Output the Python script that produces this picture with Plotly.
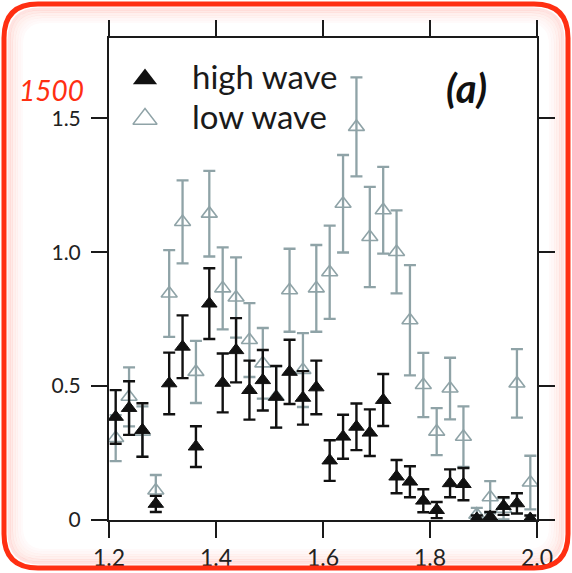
import plotly.graph_objects as go

# Bin centres of the spectrum (x axis)
bin_centers = [1.2125, 1.2375, 1.2625, 1.2875, 1.3125, 1.3375, 1.3625, 1.3875,
               1.4125, 1.4375, 1.4625, 1.4875, 1.5125, 1.5375, 1.5625, 1.5875,
               1.6125, 1.6375, 1.6625, 1.6875, 1.7125, 1.7375, 1.7625, 1.7875,
               1.8125, 1.8375, 1.8625, 1.8875, 1.9125, 1.9375, 1.9625, 1.9875]

high_wave = [0.385, 0.418, 0.336, 0.060, 0.510, 0.647, 0.274, 0.808,
             0.512, 0.634, 0.485, 0.522, 0.460, 0.553, 0.456, 0.495,
             0.222, 0.311, 0.348, 0.326, 0.448, 0.162, 0.143, 0.072,
             0.037, 0.137, 0.134, 0.005, 0.012, 0.052, 0.062, 0.005]
high_err = [0.100, 0.100, 0.100, 0.030, 0.115, 0.117, 0.076, 0.132,
            0.110, 0.120, 0.110, 0.113, 0.115, 0.120, 0.100, 0.100,
            0.076, 0.082, 0.087, 0.087, 0.097, 0.062, 0.058, 0.043,
            0.030, 0.052, 0.060, 0.012, 0.018, 0.033, 0.038, 0.012]

low_wave = [0.306, 0.460, 0.330, 0.110, 0.846, 1.113, 0.553, 1.144,
            0.865, 0.831, 0.672, 0.585, 0.460, 0.858, 0.560, 0.865,
            0.925, 1.181, 1.468, 1.057, 1.157, 1.001, 0.746, 0.504,
            0.330, 0.491, 0.311, 0.020, 0.085, 0.042, 0.510, 0.140]
low_err = [0.086, 0.110, 0.094, 0.058, 0.162, 0.155, 0.116, 0.160,
           0.153, 0.150, 0.138, 0.132, 0.115, 0.155, 0.138, 0.162,
           0.174, 0.182, 0.185, 0.187, 0.162, 0.155, 0.206, 0.120,
           0.088, 0.115, 0.113, 0.025, 0.060, 0.040, 0.128, 0.100]

x_ticks = [1.2, 1.4, 1.6, 1.8, 2.0]
x_tick_text = ["1.2", "1.4", "1.6", "1.8", "2.0"]
y_ticks = [0, 0.5, 1.0, 1.5]
y_tick_text = ["0", "0.5", "1.0", "1.5"]

series_names = ["high wave", "low wave"]

W, H = 572, 573
ML, MR, MT, MB = 109, 35, 38, 53
PW, PH = W - ML - MR, H - MT - MB

BLACK = "#111111"
GREY = "#8fa3a7"
RED = "#ff2f12"
FONT = "Lato"


def px_to_paper(px, py):
    return (px - ML) / PW, (H - MB - py) / PH


fig = go.Figure()

fig.add_trace(go.Scatter(
    x=bin_centers, y=low_wave, mode="markers", name=series_names[1],
    marker=dict(symbol="triangle-up-open", size=14, color=GREY,
                line=dict(color=GREY, width=1.6)),
    error_y=dict(type="data", array=low_err, color=GREY, thickness=2.3, width=6),
    showlegend=False,
))
fig.add_trace(go.Scatter(
    x=bin_centers, y=high_wave, mode="markers", name=series_names[0],
    marker=dict(symbol="triangle-up", size=13.5, color=BLACK,
                line=dict(color=BLACK, width=1)),
    error_y=dict(type="data", array=high_err, color=BLACK, thickness=2.4, width=6),
    showlegend=False,
))

# Key symbols on a hidden unit axis laid over the plot area
kx, ky1 = px_to_paper(145, 79)
_, ky2 = px_to_paper(145, 119)
fig.add_trace(go.Scatter(
    x=[kx], y=[ky1], xaxis="x2", yaxis="y2", mode="markers", showlegend=False,
    marker=dict(symbol="triangle-up", size=21, color=BLACK), hoverinfo="skip"))
fig.add_trace(go.Scatter(
    x=[kx], y=[ky2], xaxis="x2", yaxis="y2", mode="markers", showlegend=False,
    marker=dict(symbol="triangle-up-open", size=21, color=GREY,
                line=dict(color=GREY, width=1.4)), hoverinfo="skip"))

tx, _ = px_to_paper(190, 0)
_, ty1 = px_to_paper(0, 76)
_, ty2 = px_to_paper(0, 116)
annotations = [
    dict(text=series_names[0], x=tx, y=ty1, xanchor="left", yanchor="middle"),
    dict(text=series_names[1], x=tx, y=ty2, xanchor="left", yanchor="middle"),
]
annotations = [dict(a, xref="paper", yref="paper", showarrow=False,
                    font=dict(family=FONT, size=33, color="#1a1a1a"))
               for a in annotations]

ax_, ay_ = px_to_paper(466, 88)
annotations.append(dict(text="<b><i>(a)</i></b>", x=ax_, y=ay_, xref="paper", yref="paper",
                        xanchor="center", yanchor="middle", showarrow=False,
                        font=dict(family=FONT, size=40, color="#111111")))
rx, ry = px_to_paper(17, 90)
annotations.append(dict(text="<i>1500</i>", x=rx, y=ry, xref="paper", yref="paper",
                        xanchor="left", yanchor="middle", showarrow=False,
                        font=dict(family=FONT, size=28, color=RED)))


def rounded_rect(x0, y0, x1, y1, r):
    pts = []
    def p(px, py):
        a, b = px_to_paper(px, py)
        return f"{a:.5f},{b:.5f}"
    pts.append("M" + p(x0 + r, y0))
    pts.append("L" + p(x1 - r, y0))
    pts.append("Q" + p(x1, y0) + " " + p(x1, y0 + r))
    pts.append("L" + p(x1, y1 - r))
    pts.append("Q" + p(x1, y1) + " " + p(x1 - r, y1))
    pts.append("L" + p(x0 + r, y1))
    pts.append("Q" + p(x0, y1) + " " + p(x0, y1 - r))
    pts.append("L" + p(x0, y0 + r))
    pts.append("Q" + p(x0, y0) + " " + p(x0 + r, y0))
    return " ".join(pts) + " Z"


shapes = []
# soft inner glow of the frame
for k, op in enumerate([0.14, 0.11, 0.08, 0.06, 0.04, 0.025]):
    inset = 5 + 2.5 * k
    shapes.append(dict(type="path", xref="paper", yref="paper", layer="below",
                       path=rounded_rect(4 + inset, 4 + inset, 568 - inset, 568 - inset, 34 - inset * 0.6),
                       line=dict(color=f"rgba(255,60,40,{op})", width=3)))
shapes.append(dict(type="path", xref="paper", yref="paper", layer="above",
                   path=rounded_rect(4, 4, 568, 568, 34),
                   line=dict(color=RED, width=5)))

axis_common = dict(showline=True, linewidth=2, linecolor="#1a1a1a", mirror="ticks",
                   ticks="outside", ticklen=16, tickwidth=2, tickcolor="#1a1a1a",
                   showgrid=False, zeroline=False, automargin=False)

fig.update_layout(
    width=W, height=H,
    margin=dict(l=ML, r=MR, t=MT, b=MB, autoexpand=False),
    paper_bgcolor="white", plot_bgcolor="white",
    font=dict(family=FONT, color="#333333"),
    xaxis=dict(range=[1.2, 2.0], tickvals=x_ticks, ticktext=x_tick_text,
               tickfont=dict(family=FONT, size=23, color="#222222"),
               ticklabelstandoff=0, **axis_common),
    yaxis=dict(range=[0, 1.8], tickvals=y_ticks, ticktext=y_tick_text,
               tickfont=dict(family=FONT, size=21, color="#222222"),
               ticklabelstandoff=6, **axis_common),
    xaxis2=dict(overlaying="x", range=[0, 1], visible=False, anchor="y2"),
    yaxis2=dict(overlaying="y", range=[0, 1], visible=False, anchor="x2"),
    annotations=annotations,
    shapes=shapes,
    showlegend=False,
)

fig.write_html("out.html")
